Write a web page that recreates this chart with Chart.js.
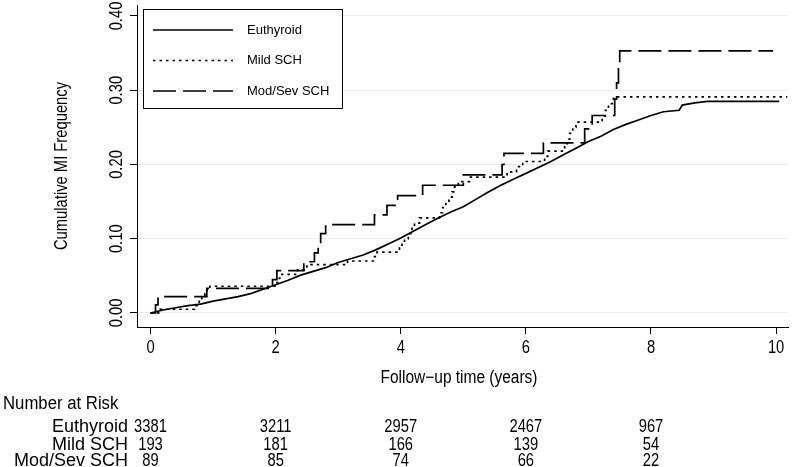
<!DOCTYPE html>
<html lang="en">
<head>
<meta charset="UTF-8">
<title>Cumulative MI Frequency</title>
<script src="https://cdn.jsdelivr.net/npm/chart.js"></script>
<style>
    body {
        margin: 0;
        background-color: #fff;
    }
    #wrap {
        width: 802px;
        height: 467px;
    }
</style>
</head>
<body>
<div id="wrap"><canvas id="miChart" width="802" height="467"></canvas></div>
<script>
    // Follow-up time (years) and cumulative MI frequency
    const euthyroidT = [0, 0.2, 0.4, 0.6, 0.8, 1.0, 1.2, 1.4, 1.6, 1.8, 2.0, 2.2, 2.4, 2.6, 2.8, 3.0, 3.2, 3.4, 3.6, 3.8, 4.0, 4.2, 4.4, 4.6, 4.8, 5.0, 5.2, 5.4, 5.6, 5.8, 6.0, 6.2, 6.4, 6.6, 6.8, 7.0, 7.2, 7.4, 7.6, 7.8, 8.0, 8.2, 8.45, 8.5, 8.7, 8.9, 10.05];
    const euthyroidF = [0, 0.004, 0.007, 0.010, 0.012, 0.016, 0.019, 0.022, 0.026, 0.032, 0.038, 0.044, 0.051, 0.056, 0.061, 0.068, 0.073, 0.078, 0.085, 0.093, 0.101, 0.110, 0.119, 0.128, 0.136, 0.143, 0.153, 0.163, 0.172, 0.180, 0.188, 0.196, 0.204, 0.213, 0.222, 0.231, 0.238, 0.247, 0.254, 0.260, 0.266, 0.271, 0.273, 0.280, 0.283, 0.285, 0.285];

    const mildT = [0, 0.15, 0.7, 0.78, 0.82, 0.87, 0.9, 0.95, 2.02, 2.06, 2.1, 2.35, 2.5, 3.15, 3.56, 3.62, 3.98, 4.02, 4.06, 4.12, 4.18, 4.22, 4.3, 4.62, 4.67, 4.72, 4.77, 4.82, 4.86, 4.92, 5.1, 5.7, 5.85, 5.95, 6.3, 6.35, 6.62, 6.66, 6.7, 6.75, 6.8, 7.22, 7.27, 7.32, 7.4, 10.18];
    const mildF = [0, 0.005, 0.010, 0.016, 0.021, 0.026, 0.031, 0.036, 0.041, 0.047, 0.052, 0.058, 0.065, 0.070, 0.076, 0.082, 0.088, 0.094, 0.100, 0.107, 0.114, 0.121, 0.128, 0.135, 0.142, 0.149, 0.156, 0.163, 0.170, 0.177, 0.183, 0.190, 0.197, 0.204, 0.211, 0.218, 0.226, 0.234, 0.242, 0.250, 0.257, 0.265, 0.273, 0.282, 0.291, 0.291];

    const modSevT = [0, 0.08, 0.12, 0.9, 1.95, 2.02, 2.45, 2.62, 2.68, 2.72, 2.8, 3.58, 3.78, 3.95, 4.35, 5.0, 5.62, 5.65, 6.28, 6.94, 7.06, 7.42, 7.45, 7.48, 7.5, 9.95];
    const modSevF = [0, 0.011, 0.022, 0.033, 0.045, 0.057, 0.069, 0.081, 0.094, 0.107, 0.119, 0.132, 0.145, 0.158, 0.172, 0.186, 0.200, 0.215, 0.229, 0.248, 0.266, 0.288, 0.310, 0.332, 0.353, 0.353];

    const groupNames = ['Euthyroid', 'Mild SCH', 'Mod/Sev SCH'];

    // Axis ticks
    const xTicks = [0, 2, 4, 6, 8, 10];
    const xTickLabels = ['0', '2', '4', '6', '8', '10'];
    const yTicks = [0, 0.1, 0.2, 0.3, 0.4];
    const yTickLabels = ['0.00', '0.10', '0.20', '0.30', '0.40'];

    // Number at risk table
    const riskTimes = [0, 2, 4, 6, 8];
    const riskEuthyroid = [3381, 3211, 2957, 2467, 967];
    const riskMild = [193, 181, 166, 139, 54];
    const riskModSev = [89, 85, 74, 66, 22];

    const FAMILY = "'Liberation Sans', Arial, Helvetica, sans-serif";
    const FONT = "18px " + FAMILY;
    const LEGEND_FONT = "13px " + FAMILY;
    const DOTS = [2.5, 4];
    const DASHES = [23, 7];

    function pts(ts, fs) {
        return ts.map((t, i) => ({ x: t, y: fs[i] }));
    }

    // Stata's text is a condensed Helvetica: squeeze it horizontally
    function narrowText(ctx, text, x, y, align, angle, squeeze) {
        ctx.save();
        ctx.translate(x, y);
        if (angle) ctx.rotate(angle);
        ctx.scale(squeeze || 0.82, 1);
        ctx.textAlign = align;
        ctx.textBaseline = 'middle';
        ctx.fillText(text, 0, 0);
        ctx.restore();
    }

    // Labels, legend box and risk table drawn on top
    const overlay = {
        id: 'overlay',
        afterDraw(chart) {
            const { ctx, chartArea, scales: { x, y } } = chart;
            ctx.save();
            ctx.fillStyle = '#000';
            ctx.font = FONT;

            yTicks.forEach((v, i) => {
                narrowText(ctx, yTickLabels[i], 117, y.getPixelForValue(v), 'center', -Math.PI / 2);
            });
            xTicks.forEach((v, i) => {
                narrowText(ctx, xTickLabels[i], x.getPixelForValue(v), 348, 'center');
            });

            narrowText(ctx, 'Cumulative MI Frequency', 62, (chartArea.top + chartArea.bottom) / 2, 'center', -Math.PI / 2);
            narrowText(ctx, 'Follow\u2212up time (years)', 459, 378, 'center', 0, 0.86);

            // legend
            ctx.fillStyle = '#fff';
            ctx.fillRect(143.5, 9.5, 199, 99);
            ctx.strokeStyle = '#000';
            ctx.lineWidth = 1;
            ctx.strokeRect(143.5, 9.5, 199, 99);
            const dashes = [[], DOTS, DASHES];
            ctx.font = LEGEND_FONT;
            ctx.textAlign = 'left';
            ctx.textBaseline = 'middle';
            ctx.fillStyle = '#000';
            groupNames.forEach((name, i) => {
                const ly = 30 + i * 30.5;
                ctx.beginPath();
                ctx.setLineDash(dashes[i]);
                ctx.lineWidth = 1.7;
                ctx.moveTo(153, ly);
                ctx.lineTo(233, ly);
                ctx.stroke();
                ctx.fillText(name, 247, ly);
            });
            ctx.setLineDash([]);

            // number at risk
            ctx.font = FONT;
            narrowText(ctx, 'Number at Risk', 3, 404, 'left', 0, 0.93);
            const rows = [riskEuthyroid, riskMild, riskModSev];
            const rowY = [427, 445, 461];
            rows.forEach((row, r) => {
                narrowText(ctx, groupNames[r], 128, rowY[r], 'right', 0, 1.0);
                row.forEach((n, i) => {
                    narrowText(ctx, String(n), x.getPixelForValue(riskTimes[i]), rowY[r], 'center');
                });
            });
            ctx.restore();
        }
    };

    const lineStyle = {
        borderColor: '#000',
        borderWidth: 1.7,
        pointRadius: 0,
        fill: false
    };

    const miChart = new Chart(document.getElementById('miChart'), {
        type: 'line',
        data: {
            datasets: [
                Object.assign({ label: groupNames[0], data: pts(euthyroidT, euthyroidF), stepped: false }, lineStyle),
                Object.assign({ label: groupNames[1], data: pts(mildT, mildF), stepped: 'before', borderDash: DOTS }, lineStyle),
                Object.assign({ label: groupNames[2], data: pts(modSevT, modSevF), stepped: 'before', borderDash: DASHES }, lineStyle)
            ]
        },
        options: {
            responsive: false,
            animation: false,
            devicePixelRatio: 1,
            layout: { padding: { top: 5, right: 14, left: 0, bottom: 0 } },
            plugins: {
                legend: { display: false },
                tooltip: { enabled: false }
            },
            scales: {
                x: {
                    type: 'linear',
                    min: -0.216,
                    max: 10.19,
                    afterBuildTicks: s => { s.ticks = xTicks.map(v => ({ value: v })); },
                    afterFit: s => { s.height = 140; },
                    grid: { drawOnChartArea: false, tickColor: '#000', tickLength: 7 },
                    border: { color: '#000', width: 1 },
                    ticks: { display: false }
                },
                y: {
                    type: 'linear',
                    min: -0.0189,
                    max: 0.4148,
                    afterBuildTicks: s => { s.ticks = yTicks.map(v => ({ value: v })); },
                    afterFit: s => { s.width = 137; },
                    grid: { color: '#ececec', tickColor: '#000', tickLength: 7 },
                    border: { color: '#000', width: 1 },
                    ticks: { display: false }
                }
            }
        },
        plugins: [overlay]
    });
</script>
</body>
</html>
